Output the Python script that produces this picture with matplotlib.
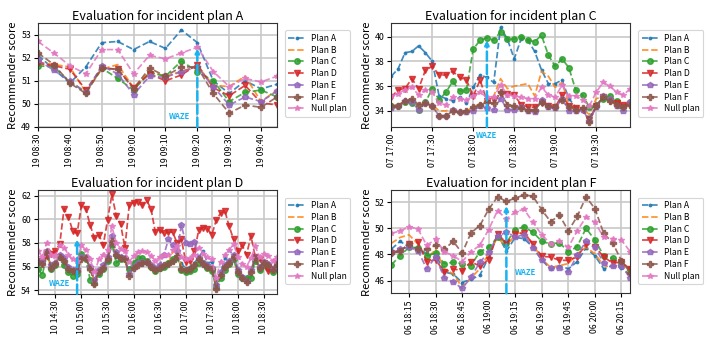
import matplotlib
matplotlib.use("Agg")
import matplotlib.pyplot as plt
import matplotlib.dates as mdates
import pandas as pd

plt.rcParams['font.family'] = ['Noto Sans CJK KR', 'DejaVu Sans']

series_names = ["Plan A", "Plan B", "Plan C", "Plan D", "Plan E", "Plan F", "Null plan"]
colors = ["#1f77b4", "#ff7f0e", "#2ca02c", "#d62728", "#9467bd", "#8c564b", "#e377c2"]
markers = [".", None, "o", "v", "p", "P", "*"]

# ---- Panel A (incident plan A) ----
a_start = "2019-01-19 08:30"
a_A = [52.1, 51.5, 50.9, 51.6, 52.65, 52.7, 52.35, 52.7, 52.4, 53.2, 52.65, 51.0, 50.45, 51.0, 50.65, 50.85]
a_B = [51.8, 51.7, 51.6, 50.5, 51.5, 51.7, 50.7, 51.4, 51.2, 51.4, 51.65, 50.8, 50.75, 51.2, 50.1, 50.6]
a_C = [51.65, 51.6, 50.95, 50.5, 51.55, 51.1, 50.6, 51.35, 51.2, 51.85, 51.4, 51.0, 50.1, 50.5, 50.6, 50.3]
a_D = [51.75, 51.65, 51.5, 50.6, 51.55, 51.5, 50.7, 51.3, 51.0, 51.25, 51.7, 50.7, 50.35, 50.8, 50.05, 49.95]
a_E = [51.9, 51.45, 51.0, 50.5, 51.65, 51.3, 50.4, 51.2, 51.15, 51.4, 51.6, 50.75, 49.95, 50.3, 50.1, 50.55]
a_F = [52.2, 51.7, 50.9, 50.45, 51.55, 51.5, 50.65, 51.55, 51.2, 51.6, 51.6, 50.45, 49.6, 49.95, 49.85, 50.3]
a_N = [52.7, 52.2, 51.65, 51.3, 52.35, 52.35, 51.3, 52.1, 51.95, 52.2, 52.45, 51.4, 50.75, 51.1, 50.95, 51.2]

# ---- Panel C (incident plan C) ----
c_start = "2019-01-07 17:00"
c_A = [36.8, 37.4, 38.7, 38.8, 39.25, 38.7, 38.0, 35.2, 35.0, 34.8, 35.1, 34.6, 35.9, 36.9, 36.7, 36.3, 40.75, 39.8,
       38.2, 39.8, 39.7, 38.8, 37.3, 36.2, 36.2, 36.5, 35.0, 34.3, 34.0, 33.5, 34.3, 35.1, 34.8, 34.6, 34.4, 34.8]
c_B = [34.4, 34.5, 34.8, 34.9, 34.5, 34.6, 34.5, 34.0, 34.0, 34.2, 34.0, 34.0, 34.3, 34.6, 34.9, 35.2, 36.6, 35.8,
       36.0, 36.1, 36.2, 35.2, 37.2, 36.8, 35.9, 36.3, 34.5, 34.3, 34.2, 33.7, 35.0, 35.1, 34.7, 34.5, 34.2, 34.6]
c_C = [34.4, 34.4, 34.7, 34.6, 34.1, 34.7, 35.8, 34.9, 35.5, 36.4, 35.6, 35.7, 39.0, 39.7, 39.9, 39.7, 40.4, 39.8,
       39.8, 40.0, 39.7, 39.6, 40.1, 38.5, 37.6, 38.2, 37.5, 35.7, 35.3, 34.3, 34.5, 35.0, 35.2, 34.8, 34.3, 34.7]
c_D = [35.1, 35.7, 35.8, 36.6, 35.8, 37.3, 37.6, 36.9, 36.9, 37.2, 36.7, 36.5, 35.2, 36.5, 34.8, 34.9, 35.4, 35.4,
       35.3, 34.5, 34.3, 34.3, 34.6, 34.4, 34.3, 35.3, 34.4, 34.2, 34.1, 33.3, 34.4, 35.1, 34.8, 34.6, 34.5, 34.5]
c_E = [34.2, 34.4, 34.8, 34.7, 34.1, 34.6, 34.4, 33.6, 33.6, 34.1, 33.9, 33.9, 34.0, 34.4, 34.2, 34.1, 35.0, 34.1,
       34.1, 34.3, 34.0, 33.9, 34.9, 34.3, 34.2, 35.0, 34.0, 34.0, 34.1, 33.2, 34.3, 35.2, 35.0, 34.4, 34.0, 34.7]
c_F = [34.4, 34.4, 34.8, 35.0, 34.5, 34.6, 34.4, 33.6, 33.6, 34.0, 33.9, 34.0, 34.3, 34.5, 34.7, 34.6, 35.5, 34.5,
       34.4, 34.2, 34.1, 34.1, 34.7, 34.4, 34.3, 34.9, 34.3, 34.1, 34.2, 33.1, 34.4, 35.1, 34.8, 34.5, 34.3, 34.5]
c_N = [35.2, 35.4, 35.7, 35.9, 35.3, 35.7, 35.5, 34.6, 34.5, 35.1, 35.0, 34.9, 35.2, 35.5, 35.1, 35.1, 36.1, 35.3,
       35.2, 35.1, 35.0, 35.0, 35.9, 35.3, 35.1, 36.1, 35.2, 35.2, 34.9, 34.4, 35.5, 36.3, 36.0, 35.5, 35.3, 35.8]

# ---- Panel D (incident plan D) ----
d_start = "2019-01-10 14:10"
d_A = [56.3, 56.4, 57.1, 56.1, 56.2, 56.9, 56.4, 55.8, 55.6, 55.7, 56.8, 56.6, 55.9, 54.8, 55.6, 55.9, 56.5, 58.0, 56.8,
       56.6, 56.6, 55.5, 56.0, 56.2, 56.2, 56.2, 55.9, 55.8, 56.1, 56.0, 56.3, 56.4, 56.6, 56.3, 55.8, 56.0, 56.3, 56.8,
       57.3, 56.3, 56.4, 54.8, 55.4, 56.7, 57.4, 56.9, 55.8, 55.2, 55.0, 55.6, 56.5, 56.0, 56.4, 56.2, 55.6, 56.4]
d_B = [56.3, 56.3, 57.1, 56.0, 56.2, 56.8, 56.5, 55.8, 55.5, 55.6, 56.7, 56.6, 55.9, 54.8, 55.6, 56.0, 56.5, 58.0, 56.9,
       56.6, 56.5, 55.4, 55.9, 56.1, 56.2, 56.3, 55.8, 55.5, 55.9, 56.0, 56.3, 57.2, 57.4, 56.0, 55.7, 55.8, 56.0, 56.5,
       56.1, 55.9, 55.8, 54.4, 55.3, 56.0, 56.2, 56.7, 55.5, 55.0, 54.9, 55.6, 56.6, 55.8, 56.2, 55.9, 55.3, 56.0]
d_C = [55.8, 55.3, 57.0, 55.8, 56.1, 56.8, 56.1, 55.5, 55.2, 55.4, 57.1, 56.6, 54.9, 54.6, 55.4, 55.8, 56.5, 57.9, 56.3,
       56.6, 56.6, 55.8, 56.3, 56.7, 56.7, 56.5, 56.0, 55.6, 55.9, 56.0, 56.3, 56.6, 56.8, 55.7, 55.5, 55.6, 55.8, 56.3,
       56.3, 55.9, 55.6, 54.3, 55.0, 55.7, 56.2, 56.6, 55.4, 55.0, 55.0, 55.0, 56.5, 55.7, 56.1, 55.9, 55.5, 55.8]
d_D = [56.5, 56.3, 56.9, 57.1, 57.3, 57.9, 60.9, 60.2, 59.0, 58.8, 61.2, 60.9, 59.5, 58.4, 58.7, 57.8, 59.9, 62.1, 60.3,
       59.6, 57.6, 61.2, 61.4, 61.5, 61.2, 61.6, 60.9, 58.9, 59.1, 58.8, 58.9, 58.9, 58.0, 58.3, 56.4, 56.5, 57.3, 59.1,
       59.3, 59.2, 58.7, 59.9, 60.5, 60.7, 59.4, 58.3, 57.3, 57.8, 57.0, 58.6, 56.8, 56.6, 56.3, 55.6, 55.8, 55.9]
d_E = [56.5, 56.4, 57.3, 56.1, 56.3, 57.0, 56.7, 56.0, 55.7, 55.8, 56.8, 56.8, 56.0, 54.9, 55.7, 56.1, 56.8, 58.6, 57.2,
       56.8, 56.7, 55.4, 56.0, 56.3, 56.4, 56.4, 56.1, 55.9, 56.1, 57.0, 58.3, 57.8, 57.3, 59.5, 58.0, 57.9, 58.1, 56.7,
       56.3, 56.1, 55.9, 54.4, 55.5, 56.1, 56.5, 57.0, 55.7, 55.1, 54.8, 55.7, 56.8, 56.0, 56.4, 56.2, 55.8, 56.4]
d_F = [56.4, 56.2, 57.2, 55.9, 56.2, 56.8, 56.5, 55.8, 55.6, 55.6, 56.6, 56.7, 55.8, 54.5, 55.5, 55.9, 56.6, 58.2, 57.0,
       56.7, 56.6, 55.2, 55.9, 56.1, 56.3, 56.4, 56.0, 55.7, 55.9, 56.1, 56.2, 56.5, 56.9, 55.8, 55.7, 55.8, 56.1, 56.6,
       56.2, 56.0, 55.8, 54.1, 55.3, 56.0, 56.3, 56.8, 55.5, 55.0, 54.7, 55.5, 56.7, 55.9, 56.3, 56.1, 55.7, 56.2]
d_N = [57.3, 56.8, 58.0, 57.0, 56.9, 57.8, 57.6, 57.0, 56.6, 56.5, 57.8, 57.4, 56.6, 55.5, 56.6, 57.0, 57.4, 59.4, 58.0,
       57.5, 57.3, 56.4, 56.9, 57.2, 57.3, 57.2, 56.9, 56.5, 56.8, 57.0, 57.0, 57.4, 57.7, 56.8, 56.6, 56.7, 57.0, 57.6,
       57.1, 56.8, 56.6, 55.0, 56.4, 57.0, 57.4, 57.9, 56.8, 56.2, 56.0, 56.7, 57.7, 56.8, 57.1, 56.9, 56.5, 56.8]

# ---- Panel F (incident plan F) ----
f_start = "2019-01-06 18:05"
f_A = [48.4, 49.0, 48.55, 48.5, 48.05, 48.05, 46.65, 46.5, 45.85, 46.1, 46.4, 47.8, 49.55, 48.25, 49.3, 49.2, 48.55,
       47.6, 46.85, 47.15, 46.9, 47.45, 48.5, 47.9, 46.9, 47.15, 47.0, 46.4]
f_B = [48.85, 49.3, 49.5, 48.8, 47.6, 48.4, 46.9, 46.5, 45.5, 46.2, 46.9, 48.05, 49.3, 48.55, 49.55, 49.7, 48.8,
       47.65, 47.0, 47.15, 47.3, 48.05, 48.55, 48.05, 47.15, 47.0, 47.15, 46.6]
f_C = [47.2, 47.9, 48.55, 48.5, 47.9, 48.1, 47.3, 47.4, 47.3, 47.15, 48.2, 48.55, 49.3, 48.9, 49.9, 50.1, 49.7,
       49.0, 48.8, 48.9, 48.2, 48.6, 50.0, 49.1, 47.9, 47.7, 47.3, 46.9]
f_D = [48.1, 48.25, 48.8, 48.95, 47.45, 47.6, 46.65, 46.9, 46.75, 47.45, 47.1, 47.6, 49.55, 48.9, 49.55, 49.65, 48.8,
       47.85, 47.8, 47.55, 47.55, 47.8, 48.8, 48.6, 47.8, 47.35, 47.4, 46.9]
f_E = [48.1, 48.4, 48.55, 48.3, 46.9, 47.8, 46.2, 45.9, 45.4, 46.25, 47.4, 48.15, 49.4, 49.7, 49.35, 49.5, 48.5,
       47.55, 46.95, 46.95, 46.65, 47.95, 49.0, 48.55, 47.35, 47.1, 47.1, 46.2]
f_F = [48.1, 48.25, 48.8, 48.4, 48.4, 48.7, 48.4, 49.0, 48.1, 49.65, 50.2, 51.45, 52.4, 52.05, 52.3, 52.55, 52.45,
       51.4, 50.5, 51.0, 49.8, 50.9, 52.4, 51.5, 49.6, 48.9, 47.5, 46.6]
f_N = [49.6, 49.8, 50.1, 49.95, 48.7, 49.15, 48.2, 47.9, 47.45, 48.2, 48.7, 49.9, 51.35, 50.7, 51.25, 51.45, 50.45,
       49.5, 48.8, 49.0, 48.55, 49.8, 50.85, 50.45, 49.3, 49.2, 49.1, 48.2]

W, H = 706, 343
fig = plt.figure(figsize=(W / 100, H / 100), dpi=100)

waze_color = "#1ab2f0"

panels = [
    dict(title="Evaluation for incident plan A", start=a_start, data=[a_A, a_B, a_C, a_D, a_E, a_F, a_N],
         rect=(38, 23, 239, 104), ylim=(49, 53.5), yticks=[49, 50, 51, 52, 53],
         minutes=list(range(0, 60, 10)), waze_t="2019-01-19 09:20", waze_top=52.4,
         text_mode="left", text_y=49.45),
    dict(title="Evaluation for incident plan C", start=c_start, data=[c_A, c_B, c_C, c_D, c_E, c_F, c_N],
         rect=(391.3, 23, 239, 104), ylim=(32.7, 41.1), yticks=[34, 36, 38, 40],
         minutes=[0, 30], waze_t="2019-01-07 18:10", waze_top=39.7,
         text_mode="below", text_y=None),
    dict(title="Evaluation for incident plan D", start=d_start, data=[d_A, d_B, d_C, d_D, d_E, d_F, d_N],
         rect=(38, 190.3, 239, 103.4), ylim=(53.7, 62.45), yticks=[54, 56, 58, 60, 62],
         minutes=[0, 30], waze_t="2019-01-10 14:55", waze_top=58.3,
         text_mode="left", text_y=54.6),
    dict(title="Evaluation for incident plan F", start=f_start, data=[f_A, f_B, f_C, f_D, f_E, f_F, f_N],
         rect=(391.3, 190.3, 239, 103), ylim=(45.03, 52.9), yticks=[46, 48, 50, 52],
         minutes=[0, 15, 30, 45], waze_t="2019-01-06 19:10", waze_top=51.7,
         text_mode="right", text_y=46.64),
]

for p in panels:
    x0, y0, w, h = p["rect"]
    ax = fig.add_axes([x0 / W, 1 - (y0 + h) / H, w / W, h / H])
    n = len(p["data"][0])
    t = pd.date_range(p["start"], periods=n, freq="5min")
    for vals, name, col, mk in zip(p["data"], series_names, colors, markers):
        ax.plot(t, vals, linestyle="--", marker=mk, color=col, label=name,
                linewidth=1.25, markersize=4.0 if mk != "." else 3.5, alpha=0.85)
    ax.set_xlim(t[0], t[-1])
    ax.set_ylim(*p["ylim"])
    ax.set_yticks(p["yticks"])
    ax.xaxis.set_major_locator(mdates.MinuteLocator(byminute=p["minutes"]))
    ax.xaxis.set_major_formatter(mdates.DateFormatter("%d %H:%M"))
    for lbl in ax.get_xticklabels():
        lbl.set_rotation(90)
    ax.tick_params(labelsize=6.3, length=3, width=0.8, pad=2)
    ax.grid(True, color="#c8c8c8", linewidth=1.2)
    ax.set_axisbelow(True)
    ax.set_title(p["title"], fontsize=9.0, pad=2)
    ax.set_ylabel("Recommender score", fontsize=8.0, labelpad=2)
    for s in ax.spines.values():
        s.set_color("#333333")
        s.set_linewidth(0.8)

    wt = pd.Timestamp(p["waze_t"])
    ymin = p["ylim"][0]
    ax.annotate("", xy=(wt, p["waze_top"]), xytext=(wt, ymin),
                arrowprops=dict(arrowstyle="->", linestyle="--", lw=1.8, color=waze_color,
                                shrinkA=0, shrinkB=0, mutation_scale=6))
    if p["text_mode"] == "left":
        ax.annotate("WAZE", xy=(wt, p["text_y"]), xytext=(-5, 0), textcoords="offset points",
                    ha="right", va="center", fontsize=5.5, fontweight="bold", color=waze_color)
    elif p["text_mode"] == "right":
        ax.annotate("WAZE", xy=(wt, p["text_y"]), xytext=(6, 0), textcoords="offset points",
                    ha="left", va="center", fontsize=5.5, fontweight="bold", color=waze_color)
    else:
        ax.annotate("WAZE", xy=(wt, ymin), xytext=(0, -6), textcoords="offset points",
                    ha="center", va="center", fontsize=5.5, fontweight="bold", color=waze_color,
                    annotation_clip=False)

    leg = ax.legend(loc="upper left", bbox_to_anchor=(1.015, 0.97), fontsize=6.2,
                    labelspacing=0.32, handlelength=2.0, borderpad=0.4, handletextpad=0.6,
                    frameon=True, fancybox=True)
    leg.get_frame().set_edgecolor("#cccccc")
    leg.get_frame().set_linewidth(0.8)

fig.savefig("out.png", dpi=100)
